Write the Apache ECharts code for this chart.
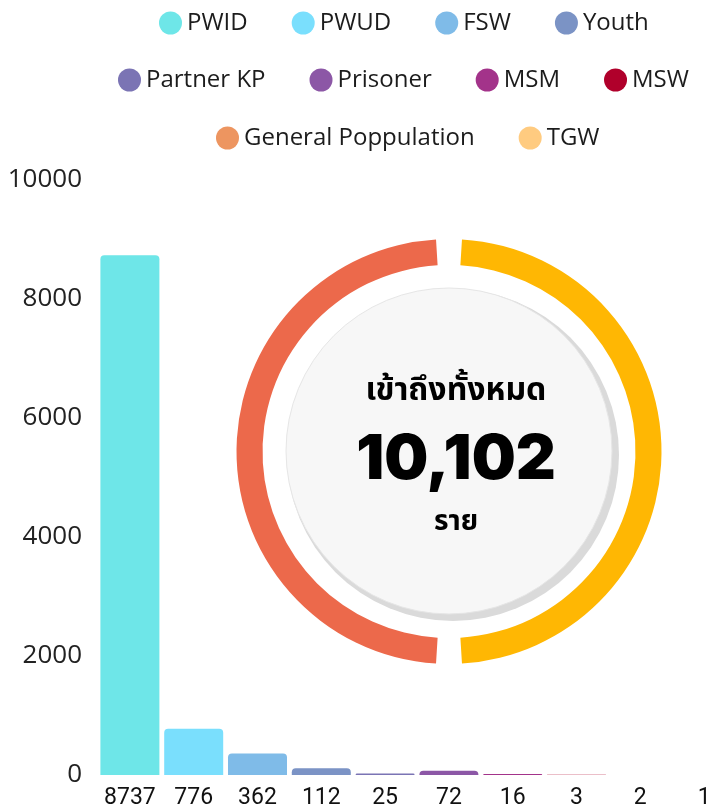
<!DOCTYPE html>
<html>
<head>
<meta charset="utf-8">
<script src="https://cdn.jsdelivr.net/npm/echarts@6/dist/echarts.min.js"></script>
<style>
  html, body { margin: 0; padding: 0; background: #fff; }
  #magicEchart { width: 708px; height: 812px; }
</style>
</head>
<body>
<div id="magicEchart"></div>
<script>
  // กลุ่มเป้าหมาย (legend) และจำนวน
  var groupNames = ['PWID', 'PWUD', 'FSW', 'Youth', 'Partner KP', 'Prisoner', 'MSM', 'MSW', 'General Poppulation', 'TGW'];
  var groupValues = [8737, 776, 362, 112, 25, 72, 16, 3, 2, 1];
  var groupColors = ['#6ee6e8', '#7adffd', '#7fbbe8', '#7b93c5', '#7b74b4', '#8c57a6', '#a3338a', '#b0002b', '#ed9560', '#ffcb80'];
  var legendRows = [
    ['PWID', 'PWUD', 'FSW', 'Youth'],
    ['Partner KP', 'Prisoner', 'MSM', 'MSW'],
    ['General Poppulation', 'TGW']
  ];
  var yTicks = [0, 2000, 4000, 6000, 8000, 10000];
  // วงแหวน ซ้าย/ขวา
  var ringNames = ['right', 'left'];
  var ringValues = [50, 50];
  var ringColors = ['#ffb703', '#ec694b'];
  var totalText = '10,102';

  var echartsOption = echarts.init(document.getElementById('magicEchart'));

  var categories = groupValues.map(function (v) { return String(v); });

  var seriesData = groupNames.map(function (name, i) {
    var data = groupValues.map(function (v, j) { return j === i ? v : '-'; });
    return {
      name: name,
      type: 'bar',
      stack: 'total',
      barWidth: 59,
      itemStyle: { color: groupColors[i], borderRadius: [4, 4, 0, 0] },
      data: data
    };
  });

  seriesData.push({
    type: 'pie',
    center: [449, 451.5],
    radius: [186.5, 212.5],
    startAngle: 90,
    padAngle: 7,
    silent: true,
    label: { show: false },
    labelLine: { show: false },
    z: 3,
    data: ringNames.map(function (n, i) {
      return { name: n, value: ringValues[i], itemStyle: { color: ringColors[i] } };
    })
  });

  // แต่ละแถวของ legend (จัดวางเองทีละแถว)
  var legendTops = [6, 63, 121];
  var legendLefts = [154, 113, 211];
  var legendFont = { fontSize: 24, color: '#1c1c1c', fontFamily: 'Open Sans, Noto Sans, sans-serif' };
  var legends = legendRows.map(function (row, i) {
    return {
      data: row,
      top: legendTops[i],
      left: legendLefts[i],
      icon: 'circle',
      itemWidth: 23,
      itemHeight: 23,
      itemGap: 44,
      itemTextGap: 12,
      textStyle: legendFont,
      selectedMode: false
    };
  });

  var thaiFont = 'Noto Sans Thai, Kanit, Noto Sans, sans-serif';

  var option = {
    backgroundColor: '#fff',
    animation: false,
    legend: legends,
    grid: {
      left: 98,
      top: 180,
      bottom: 37,
      width: 638,
      outerBoundsMode: 'none'
    },
    xAxis: {
      type: 'category',
      data: categories,
      axisLine: { show: false },
      axisTick: { show: false },
      axisLabel: {
        interval: 0,
        margin: 12,
        fontSize: 23,
        color: '#111',
        fontFamily: 'Liberation Sans Narrow, Roboto, sans-serif'
      }
    },
    yAxis: {
      type: 'value',
      min: yTicks[0],
      max: yTicks[yTicks.length - 1],
      interval: yTicks[1] - yTicks[0],
      splitLine: { show: false },
      axisLine: { show: false },
      axisTick: { show: false },
      axisLabel: {
        margin: 16,
        fontSize: 26,
        color: '#222',
        fontFamily: 'Open Sans, Noto Sans, sans-serif',
        formatter: function (v) { return String(v); }
      }
    },
    graphic: [
      {
        type: 'circle',
        shape: { cx: 453, cy: 455, r: 166 },
        style: { fill: '#dadada' },
        z: 10, silent: true
      },
      {
        type: 'circle',
        shape: { cx: 449, cy: 451, r: 163 },
        style: { fill: '#f7f7f7', stroke: '#e6e6e6', lineWidth: 1 },
        z: 11, silent: true
      },
      {
        type: 'text',
        x: 456, y: 394, z: 12, silent: true,
        style: { text: 'เข้าถึงทั้งหมด', fill: '#000', align: 'center', verticalAlign: 'middle', font: 'bold 32px ' + thaiFont }
      },
      {
        type: 'text',
        x: 456, y: 460, z: 12, silent: true,
        style: { text: totalText, fill: '#000', align: 'center', verticalAlign: 'middle', font: '900 62px Inter, Roboto, sans-serif' }
      },
      {
        type: 'text',
        x: 456, y: 524, z: 12, silent: true,
        style: { text: 'ราย', fill: '#000', align: 'center', verticalAlign: 'middle', font: 'bold 28px ' + thaiFont }
      }
    ],
    series: seriesData
  };
  echartsOption.clear();
  echartsOption.setOption(option);
  window.onresize = function () {
    echartsOption.resize();
  };
</script>
</body>
</html>
